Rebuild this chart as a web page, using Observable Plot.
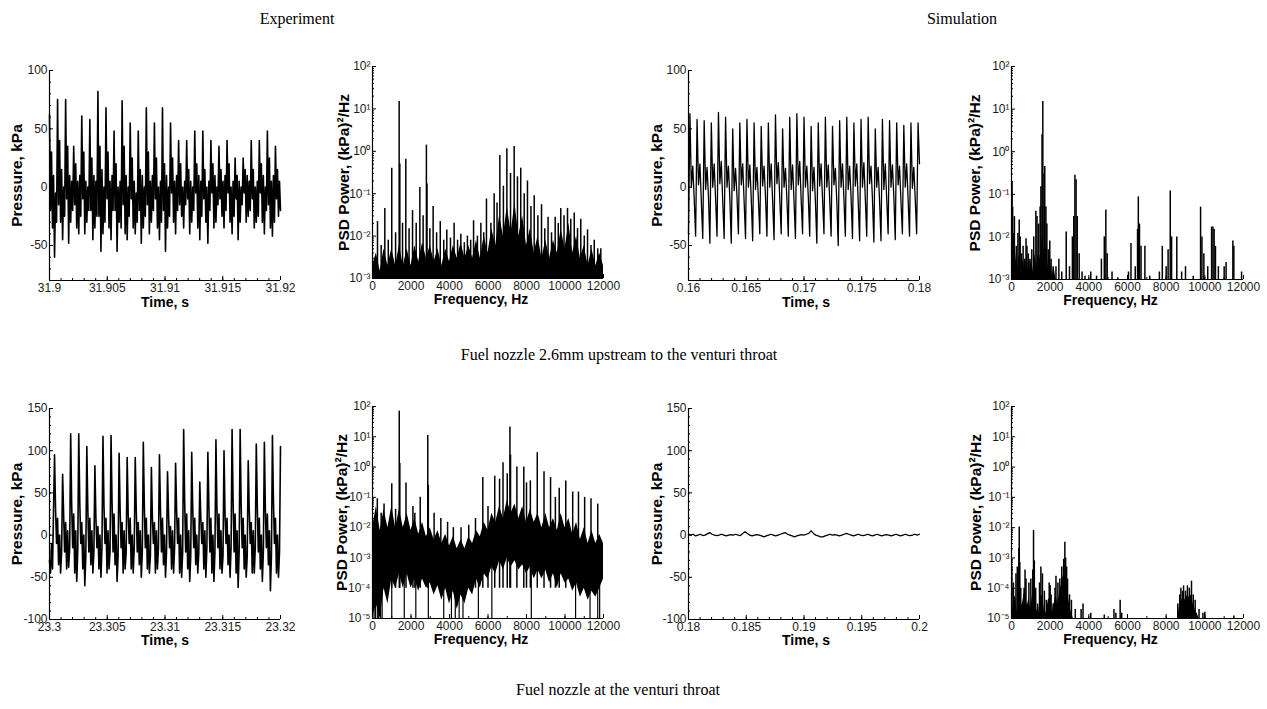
<!DOCTYPE html>
<html><head><meta charset="utf-8">
<script src="https://cdn.jsdelivr.net/npm/d3@7"></script>
<script src="https://cdn.jsdelivr.net/npm/@observablehq/plot@0.6"></script>
<style>
html,body{margin:0;padding:0;background:#fff;}
#wrap{position:relative;width:1267px;height:709px;overflow:hidden;background:#fff;}
.hd{position:absolute;font-family:'Liberation Serif','Times New Roman',serif;font-size:16px;line-height:16px;color:#000;white-space:nowrap;transform:translateX(-50%);}
.pn{position:absolute;}
</style></head><body>
<div id="wrap">
<div class="hd" style="left:297px;top:11px">Experiment</div>
<div class="hd" style="left:962px;top:11px">Simulation</div>
<div class="hd" style="left:619px;top:347px">Fuel nozzle 2.6mm upstream to the venturi throat</div>
<div class="hd" style="left:618px;top:682px">Fuel nozzle at the venturi throat</div>
</div>
<script>
// ---------------- DATA ----------------
// Row 1, experiment: pressure trace (kPa), evenly sampled over 31.9–31.92 s
const exp1Time = [31.9, 31.92];
const exp1Pressure = [
 62,-20,30,-35,10,-60,-5,-30,
 75,-15,40,-30,15,-45,0,-25,
 75,-10,35,-48,10,-30,5,-20,
 35,-15,20,-35,5,-40,10,-25,
 61,-10,30,-40,5,-30,0,-20,
 58,-20,25,-45,10,-35,5,-25,
 82,-25,35,-55,15,-40,0,-30,
 68,-10,30,-35,5,-45,10,-20,
 48,-20,20,-55,0,-30,5,-35,
 74,-15,35,-40,10,-45,0,-25,
 55,-10,25,-35,5,-40,-5,-30,
 48,-20,15,-48,10,-35,0,-25,
 68,-15,30,-40,5,-30,10,-20,
 55,-10,25,-35,0,-45,5,-30,
 68,-20,20,-55,10,-35,0,-25,
 55,-5,25,-30,5,-40,10,-20,
 40,-15,20,-25,0,-35,5,-15,
 40,-10,15,-40,5,-30,0,-20,
 48,-5,20,-35,10,-45,5,-25,
 48,-10,15,-30,0,-48,5,-20,
 40,-5,20,-35,10,-30,0,-15,
 35,-10,15,-25,5,-35,10,-20,
 40,-5,20,-30,0,-40,5,-25,
 25,-10,10,-45,5,-30,0,-15,
 25,-5,15,-30,10,-25,5,-20,
 40,-10,15,-35,0,-30,5,-25,
 40,-5,20,-30,10,-40,0,-20,
 48,-15,25,-35,5,-42,10,-30,
 35,-10,15,-25,5,-20
];
// Row 1, experiment: PSD spikes [Hz, (kPa)^2/Hz] and noise floor
const exp1Spikes = [
 [260,0.022],[640,0.045],[1000,0.4],[1385,15],[1420,0.5],[1730,0.65],[2080,0.04],[2460,0.14],[2800,1.4],[2830,0.17],
 [3150,0.05],[3520,0.022],[3860,0.014],[4240,0.02],[4590,0.011],[4930,0.01],[5250,0.023],[5630,0.02],[5920,0.075],
 [6320,0.1],[6615,0.8],[6980,1.15],[7360,1.3],[7700,0.4],[8050,0.2],[8400,0.09],[8780,0.055],[9120,0.028],[9490,0.028],
 [9780,0.045],[10130,0.045],[10480,0.035],[10820,0.025],[11170,0.014],[11520,0.008],[11860,0.005],
 [450,0.006],[820,0.008],[1200,0.012],[1560,0.02],[1900,0.015],[2270,0.02],[2630,0.03],[2980,0.015],[3330,0.012],
 [3700,0.008],[4050,0.009],[4420,0.008],[4770,0.007],[5100,0.008],[5450,0.01],[5780,0.012],[6150,0.02],[6470,0.06],
 [6800,0.15],[7170,0.3],[7530,0.25],[7880,0.1],[8230,0.05],[8590,0.03],[8950,0.015],[9300,0.012],[9650,0.02],
 [9950,0.03],[10300,0.025],[10650,0.015],[11000,0.01],[11350,0.006],[11700,0.005]
];
const exp1Floor = [
 [0,2e-3],[200,4e-3],[400,1.5e-3],[600,5e-3],[800,2e-3],[1000,5e-3],[1200,2e-3],[1400,6e-3],[1600,2e-3],[1800,5e-3],
 [2000,2e-3],[2200,6e-3],[2400,2.5e-3],[2600,7e-3],[2800,3e-3],[3000,6e-3],[3200,2.5e-3],[3400,5e-3],[3600,2e-3],[3800,5e-3],
 [4000,2.5e-3],[4200,6e-3],[4400,3e-3],[4600,7e-3],[4800,3e-3],[5000,6e-3],[5200,3e-3],[5400,8e-3],[5600,3e-3],[5800,1e-2],
 [6000,4e-3],[6200,1.5e-2],[6400,6e-3],[6600,3e-2],[6800,1e-2],[7000,5e-2],[7200,1.2e-2],[7400,6e-2],[7600,1e-2],[7800,3e-2],
 [8000,6e-3],[8200,1.5e-2],[8400,4e-3],[8600,1e-2],[8800,3e-3],[9000,8e-3],[9200,3e-3],[9400,8e-3],[9600,4e-3],[9800,1.5e-2],
 [10000,5e-3],[10200,2e-2],[10400,4e-3],[10600,1e-2],[10800,3e-3],[11000,6e-3],[11200,2e-3],[11400,5e-3],[11600,2e-3],
 [11800,4e-3],[12000,2e-3]
];
// Row 1, simulation: pressure trace over 0.16–0.18 s
const sim1Time = [0.16, 0.18];
const sim1Pressure = [
 -40,63,0,18,-10, -42,58,2,20,-12, -44,57,-2,17,-8, -48,55,0,20,-10, -42,64,3,22,-12,
 -44,60,0,18,-10, -48,50,-3,16,-8, -40,55,2,20,-12, -44,58,0,19,-10, -46,55,-2,17,-10,
 -40,52,1,18,-8, -42,55,0,20,-12, -45,62,3,21,-10, -40,50,0,16,-10, -42,60,-2,19,-12,
 -44,63,2,22,-10, -40,60,0,18,-8, -42,52,-3,17,-12, -48,55,1,20,-10, -40,60,0,19,-10,
 -42,52,2,16,-12, -50,57,0,20,-10, -42,60,-2,18,-8, -44,55,1,20,-12, -46,58,0,21,-10,
 -42,60,3,18,-10, -47,50,0,17,-12, -46,58,-2,20,-10, -40,57,0,19,-8, -45,55,2,18,-12,
 -40,53,0,20,-10, -42,55,-1,17,-10, -40,55,20
];
// Row 1, simulation: PSD spikes
const sim1Spikes = [
 [30,0.2],[60,0.05],[100,0.012],[150,0.03],[250,0.006],[330,0.012],[400,0.025],[450,0.01],[520,0.004],[600,0.006],
 [680,0.003],[750,0.009],[800,0.006],[870,0.004],[950,0.003],[1050,0.005],[1150,0.01],[1260,0.04],[1320,0.03],[1400,0.02],
 [1480,0.05],[1520,0.15],[1580,2.5],[1620,15],[1680,0.3],[1720,0.45],[1780,0.05],[1830,0.02],[1900,0.005],[1980,0.008],
 [2050,0.003],[2150,0.002],[2300,0.002],[2450,0.003],[2600,0.0015],[2830,0.013],[3000,0.002],[3150,0.01],[3220,0.03],
 [3280,0.28],[3340,0.22],[3400,0.03],[3500,0.004],[3650,0.0015],[3800,0.0012],[4100,0.0015],[4400,0.0012],[4650,0.003],
 [4800,0.01],[4880,0.043],[4950,0.004],[5200,0.0015],[5500,0.0011],[6050,0.0015],[6180,0.007],[6400,0.002],[6520,0.015],
 [6560,0.087],[6620,0.02],[6700,0.006],[6900,0.006],[7150,0.0012],[7650,0.0015],[7800,0.006],[8000,0.002],[8100,0.005],
 [8210,0.12],[8280,0.01],[8550,0.01],[8800,0.0015],[9000,0.002],[9400,0.0012],[9780,0.05],[9850,0.01],[9950,0.004],
 [10150,0.002],[10350,0.017],[10420,0.017],[10480,0.015],[10550,0.006],[10700,0.002],[11000,0.002],[11100,0.0025],
 [11450,0.008],[11500,0.006],[11900,0.0015]
];
const sim1Floor = [
 [0,4e-3],[100,1.5e-3],[200,5e-3],[300,1.5e-3],[400,4e-3],[500,1.2e-3],[600,3e-3],[700,1.5e-3],[800,4e-3],[900,1.2e-3],
 [1000,3e-3],[1100,1.5e-3],[1200,4e-3],[1300,2e-3],[1400,5e-3],[1500,3e-3],[1600,1e-2],[1700,4e-3],[1800,6e-3],[1900,2e-3],
 [2000,3e-3],[2100,1.2e-3],[2200,2e-3],[2300,1e-3]
];
// Row 2, experiment: pressure trace over 23.3–23.32 s
const exp2Time = [23.3, 23.32];
const exp2Pressure = [
 -30,-45,-10,-40,30,
 95,30,-10,20,-35,0,-45,-20,
 72,25,-20,15,-40,5,-38,-15,
 120,35,-15,25,-45,5,-55,-20,
 120,40,-10,15,-40,0,-60,-25,
 105,30,-20,20,-35,5,-45,-20,
 82,20,-15,10,-40,0,-50,-15,
 117,35,-10,20,-45,5,-40,-20,
 118,40,-20,25,-35,0,-55,-25,
 97,30,-15,15,-45,5,-40,-20,
 92,25,-10,20,-40,0,-45,-15,
 92,30,-20,15,-35,5,-50,-20,
 110,35,-15,20,-40,0,-45,-25,
 80,20,-10,15,-45,5,-40,-15,
 95,30,-20,20,-35,0,-50,-20,
 75,25,-15,10,-40,5,-45,-15,
 85,30,-10,20,-45,0,-50,-20,
 125,40,-20,25,-40,5,-55,-25,
 98,30,-15,20,-35,0,-45,-20,
 63,20,-10,15,-40,5,-50,-15,
 98,35,-20,20,-45,0,-55,-20,
 113,30,-15,25,-40,5,-45,-25,
 100,25,-10,20,-35,0,-50,-15,
 125,40,-20,25,-45,5,-62,-20,
 125,35,-15,20,-40,0,-50,-25,
 88,30,-10,15,-45,5,-45,-15,
 108,35,-20,20,-40,0,-55,-20,
 110,30,-15,25,-35,5,-66,-25,
 118,40,-10,20,-45,0,-50,-20,
 105
];
// Row 2, experiment: PSD spikes, noise band [Hz, low, high], and dips to the floor
const exp2Spikes = [
 [1390,70],[1420,1.3],[2870,11],[2900,0.25],[7140,21],[7170,2.5],[8560,3],[1740,0.3],[1000,0.28],[2480,0.1],
 [250,0.09],[600,0.06],[5730,0.45],[6350,0.5],[6780,1.4],[7500,1.0],[7860,1.0],[8200,0.35],[8910,0.7],[9250,0.45],
 [10040,0.35],[10400,0.15],[11020,0.1],[11350,0.09],[11700,0.06],[3200,0.03],[3550,0.02],[3900,0.015],[4200,0.01],
 [4600,0.01],[5000,0.012],[5350,0.02],[6000,0.05],[6600,0.4],[7000,0.6],[8000,0.3],[9500,0.1],[9700,0.2],[10700,0.15],
 [2100,0.05],[2200,0.03],[1200,0.04],[450,0.03]
];
const exp2Band = [
 [0,1e-5,1e-2],[200,3e-5,5e-2],[400,1e-5,8e-3],[600,1e-4,4e-2],[800,3e-5,1e-2],[1000,2e-4,5e-2],[1200,1e-4,1e-2],
 [1400,3e-4,4e-2],[1600,1e-4,1e-2],[1800,3e-4,3e-2],[2000,1e-4,8e-3],[2200,2e-4,2e-2],[2400,8e-5,6e-3],[2600,2e-4,1.5e-2],
 [2800,1e-4,5e-3],[3000,1.5e-4,1e-2],[3200,6e-5,4e-3],[3400,1.2e-4,8e-3],[3600,4e-5,3e-3],[3800,1e-4,6e-3],[4000,3e-5,2.5e-3],
 [4200,8e-5,5e-3],[4400,2e-5,2e-3],[4600,6e-5,4e-3],[4800,3e-5,2e-3],[5000,1e-4,5e-3],[5200,6e-5,3e-3],[5400,2e-4,8e-3],
 [5600,1e-4,5e-3],[5800,3e-4,1.5e-2],[6000,2e-4,8e-3],[6200,5e-4,3e-2],[6400,3e-4,1.5e-2],[6600,8e-4,5e-2],[6800,4e-4,2e-2],
 [7000,1e-3,8e-2],[7200,5e-4,3e-2],[7400,8e-4,6e-2],[7600,4e-4,2e-2],[7800,6e-4,5e-2],[8000,3e-4,1.5e-2],[8200,5e-4,4e-2],
 [8400,2e-4,1.5e-2],[8600,4e-4,3e-2],[8800,2e-4,1e-2],[9000,4e-4,3e-2],[9200,1.5e-4,1e-2],[9400,3e-4,2e-2],[9600,1e-4,8e-3],
 [9800,3e-4,3e-2],[10000,1.5e-4,1e-2],[10200,2e-4,2e-2],[10400,8e-5,6e-3],[10600,1.5e-4,1.5e-2],[10800,5e-5,4e-3],
 [11000,1e-4,1e-2],[11200,4e-5,3e-3],[11400,8e-5,8e-3],[11600,5e-5,3e-3],[11800,1e-4,6e-3],[12000,2e-4,3e-3]
];
const exp2Dips = [
 [80,3e-4],[150,3e-4],[250,4e-4],[320,3e-4],[420,3e-4],[500,3e-4],[1000,5e-4],[1650,5e-4],[2250,4e-4],[2900,3e-4],
 [3700,2e-4],[4100,2e-4],[4300,2e-4],[4500,2e-4],[4700,2e-4],[5500,3e-4],[6200,5e-4],[8250,8e-4],[10550,4e-4],
 [11300,3e-4],[11700,3e-4],[11800,3e-4]
];
// Row 2, simulation: pressure trace over 0.18–0.2 s
const sim2Time = [0.18, 0.2];
const sim2Pressure = [
 1,0,1,-1,0,1,-0.5,0,1.5,3,1,0,-0.5,0,1,0,-1,0,0.5,0,1,0,-0.5,2,4,2,0,-1,0,0.5,0,-1,-2,-1,0,1,0,-1,0,1,
 2,3,1,0,-1,-2,-1,0,0.5,0,1,2,5,2,0,-1,-2,-2,-1,0,1,0,0.5,0,-1,0,1,2,1,0,-1,0,1,0,-0.5,0,1,0,-1,0,
 1,0,-1,0,0.5,0,-1,0,1,0,-1,0,1,0,-0.5,0,1,0,1
];
// Row 2, simulation: PSD spikes and floor clusters
const sim2Spikes = [
 [20,5e-4],[60,2e-5],[100,1.5e-4],[150,5e-5],[230,3e-4],[300,5e-4],[380,2e-3],[400,0.0105],[430,7e-4],[480,1e-4],
 [550,3e-5],[650,1e-4],[700,4e-4],[750,2e-4],[800,3e-5],[900,1.5e-4],[1000,2e-4],[1100,4e-4],[1140,8e-3],[1180,8e-4],
 [1250,1e-4],[1350,3e-5],[1450,1.5e-4],[1520,5e-4],[1600,3e-4],[1700,8e-5],[1800,4e-5],[1950,1.5e-4],[2000,1.2e-4],
 [2050,6e-5],[2150,3e-5],[2250,1e-4],[2300,2.5e-4],[2400,1.5e-4],[2500,2e-4],[2600,5e-4],[2700,9e-4],[2760,3.3e-3],
 [2800,1e-3],[2850,5e-4],[2900,2e-4],[3000,6e-5],[3100,4e-5],[3300,2e-5],[3600,2e-5],[3700,3e-5],[4100,1.5e-5],
 [4800,1.3e-5],[5300,2e-5],[5400,1.5e-5],[5620,4e-5],[5700,1.5e-5],[8600,3e-5],[8700,6e-5],[8760,1e-4],[8850,8e-5],
 [8900,1.2e-4],[9000,8e-5],[9100,1.2e-4],[9200,1e-4],[9310,1.7e-4],[9400,6e-5],[9500,4e-5],[9700,2e-5],[9900,1.5e-5],
 [10000,1.6e-5],[11500,1.2e-5]
];
const sim2FloorA = [
 [0,8e-5],[100,2e-5],[200,6e-5],[300,1.5e-5],[400,1e-4],[500,2e-5],[600,4e-5],[700,1e-4],[800,2e-5],[900,5e-5],
 [1000,2e-5],[1100,8e-5],[1200,1e-4],[1300,2e-5],[1400,1.5e-5],[1500,5e-5],[1600,6e-5],[1700,2e-5],[1800,1.5e-5],
 [1900,4e-5],[2000,5e-5],[2100,1.5e-5],[2200,3e-5],[2300,6e-5],[2400,3e-5],[2500,8e-5],[2600,1.5e-4],[2700,3e-4],
 [2800,2e-4],[2900,8e-5],[3000,3e-5],[3100,1.5e-5],[3200,1e-5]
];
const sim2FloorB = [
 [8600,1e-5],[8700,3e-5],[8800,4e-5],[8900,5e-5],[9000,4e-5],[9100,6e-5],[9200,5e-5],[9300,6e-5],[9400,3e-5],
 [9500,2e-5],[9600,1.5e-5],[9700,1e-5]
];
// Tick labels
const timeTicks1Exp = [31.9, 31.905, 31.91, 31.915, 31.92];
const timeTicks1Sim = [0.16, 0.165, 0.17, 0.175, 0.18];
const timeTicks2Exp = [23.3, 23.305, 23.31, 23.315, 23.32];
const timeTicks2Sim = [0.18, 0.185, 0.19, 0.195, 0.2];
const freqTicks = [0, 2000, 4000, 6000, 8000, 10000, 12000];
const pTicks1 = [-50, 0, 50, 100];
const pTicks2 = [-100, -50, 0, 50, 100, 150];

// ---------------- HELPERS ----------------
const FONT = "'Liberation Sans', Arial, Helvetica, sans-serif";
const SUP = {"-":"\u207B","0":"\u2070","1":"\u00B9","2":"\u00B2","3":"\u00B3","4":"\u2074","5":"\u2075","6":"\u2076","7":"\u2077","8":"\u2078","9":"\u2079"};
const logFmt = d => "10" + String(Math.round(Math.log10(d))).split("").map(c => SUP[c]).join("");
const numFmt = d => String(+(+d).toFixed(4));
function series(range, vals) {
  const n = vals.length;
  return vals.map((v, i) => ({t: range[0] + (range[1] - range[0]) * i / (n - 1), v}));
}
function linMinor(a, b, step) {
  const out = []; const n = Math.round((b - a) / step);
  for (let i = 0; i <= n; i++) out.push(+(a + i * step).toFixed(6));
  return out;
}
function logMinor(e0, e1) {
  const out = [];
  for (let e = e0; e < e1; e++) for (let m = 2; m <= 9; m++) out.push(+(m + "e" + e));
  return out;
}
function logMajor(e0, e1) { const out = []; for (let e = e0; e <= e1; e++) out.push(+("1e" + e)); return out; }

const wrap = document.getElementById("wrap");
function panel(c) {
  const ML = 55, MR = 22, MT = 12, MB = 40;
  const W = c.R - c.L + ML + MR, H = c.B - c.T + MT + MB;
  const y0 = c.yDomain[0];
  const svg = Plot.plot({
    width: W, height: H, marginLeft: ML, marginRight: MR, marginTop: MT, marginBottom: MB,
    style: {fontFamily: FONT, fontSize: "12px", color: "#000", background: "transparent", overflow: "visible"},
    x: {domain: c.xDomain},
    y: {domain: c.yDomain, type: c.yType || "linear"},
    marks: [
      ...c.marks,
      Plot.ruleX([c.xDomain[0]], {stroke: "#000", strokeWidth: 1.2}),
      Plot.ruleY([y0], {stroke: "#000", strokeWidth: 1.2}),
      Plot.axisX({ticks: c.xMinor, tickSize: -2, fill: "none", stroke: "#000"}),
      Plot.axisX({ticks: c.xMajor, tickSize: -4, fill: "none", stroke: "#000"}),
      Plot.axisX({ticks: c.xMajor, tickSize: 0, tickPadding: 3, tickFormat: c.xFmt, label: null, fill: "#1a1a1a"}),
      Plot.axisY({ticks: c.yMinor, tickSize: -2, fill: "none", stroke: "#000"}),
      Plot.axisY({ticks: c.yMajor, tickSize: 0, tickPadding: 2, tickFormat: c.yFmt, label: null, fill: "#1a1a1a"}),
      Plot.axisY({ticks: c.yMajor, tickSize: -4, fill: "none", stroke: "#000"}),
      Plot.text([c.xTitle], {text: d => d, frameAnchor: "bottom", textAnchor: "middle", lineAnchor: "middle", dx: c.xdx || 0, dy: c.xdy, fontWeight: "bold", fontSize: 14, fill: "#000"}),
      Plot.text([c.yTitle], {text: d => d, frameAnchor: "left", textAnchor: "middle", lineAnchor: "middle", dx: c.ydx, rotate: -90, fontWeight: "bold", fontSize: 15.5, fill: "#000"})
    ]
  });
  const d = document.createElement("div");
  d.className = "pn";
  d.style.left = (c.L - ML) + "px";
  d.style.top = (c.T - MT) + "px";
  d.appendChild(svg);
  wrap.appendChild(d);
}
const lineMarks = (data, w) => [Plot.line(data, {x: "t", y: "v", stroke: "#000", strokeWidth: w})];
const PSD_T = "PSD Power, (kPa)\u00B2/Hz";

// ---------------- PANELS ----------------
panel({L: 49, T: 70, R: 280, B: 280, xDomain: exp1Time, yDomain: [-80, 100],
  xMajor: timeTicks1Exp, xMinor: linMinor(31.9, 31.92, 0.001), xFmt: numFmt,
  yMajor: pTicks1, yMinor: linMinor(-80, 100, 10), yFmt: numFmt,
  xTitle: "Time, s", xdy: 22, yTitle: "Pressure, kPa", ydx: -32,
  marks: lineMarks(series(exp1Time, exp1Pressure), 1.6)});

panel({L: 372, T: 66, R: 603, B: 278, xDomain: [0, 12000], yDomain: [1e-3, 1e2], yType: "log",
  xMajor: freqTicks, xMinor: linMinor(0, 12000, 1000), xFmt: numFmt,
  yMajor: logMajor(-3, 2), yMinor: logMinor(-3, 2), yFmt: logFmt,
  xTitle: "Frequency, Hz", xdx: -7, xdy: 21, yTitle: PSD_T, ydx: -28,
  marks: [
    Plot.areaY(exp1Floor, {x: d => d[0], y1: 1e-3, y2: d => d[1], fill: "#000"}),
    Plot.ruleX(exp1Spikes, {x: d => d[0], y1: 1e-3, y2: d => d[1], stroke: "#000", strokeWidth: 1.5})
  ]});

panel({L: 688, T: 70, R: 919, B: 280, xDomain: sim1Time, yDomain: [-80, 100],
  xMajor: timeTicks1Sim, xMinor: linMinor(0.16, 0.18, 0.001), xFmt: numFmt,
  yMajor: pTicks1, yMinor: linMinor(-80, 100, 10), yFmt: numFmt,
  xTitle: "Time, s", xdx: 2, xdy: 22, yTitle: "Pressure, kPa", ydx: -31,
  marks: lineMarks(series(sim1Time, sim1Pressure), 1.3)});

panel({L: 1011, T: 66, R: 1243, B: 279, xDomain: [0, 12000], yDomain: [1e-3, 1e2], yType: "log",
  xMajor: freqTicks, xMinor: linMinor(0, 12000, 1000), xFmt: numFmt,
  yMajor: logMajor(-3, 2), yMinor: logMinor(-3, 2), yFmt: logFmt,
  xTitle: "Frequency, Hz", xdx: -17, xdy: 21, yTitle: PSD_T, ydx: -36,
  marks: [
    Plot.areaY(sim1Floor, {x: d => d[0], y1: 1e-3, y2: d => d[1], fill: "#000"}),
    Plot.ruleX(sim1Spikes, {x: d => d[0], y1: 1e-3, y2: d => d[1], stroke: "#000", strokeWidth: 1.5})
  ]});

panel({L: 49, T: 408, R: 280, B: 619, xDomain: exp2Time, yDomain: [-100, 150],
  xMajor: timeTicks2Exp, xMinor: linMinor(23.3, 23.32, 0.001), xFmt: numFmt,
  yMajor: pTicks2, yMinor: linMinor(-100, 150, 10), yFmt: numFmt,
  xTitle: "Time, s", xdy: 21, yTitle: "Pressure, kPa", ydx: -32,
  marks: lineMarks(series(exp2Time, exp2Pressure), 1.6)});

panel({L: 372, T: 406, R: 603, B: 618, xDomain: [0, 12000], yDomain: [1e-5, 1e2], yType: "log",
  xMajor: freqTicks, xMinor: linMinor(0, 12000, 1000), xFmt: numFmt,
  yMajor: logMajor(-5, 2), yMinor: logMinor(-5, 2), yFmt: logFmt,
  xTitle: "Frequency, Hz", xdx: -7, xdy: 21, yTitle: PSD_T, ydx: -30,
  marks: [
    Plot.areaY(exp2Band, {x: d => d[0], y1: d => d[1], y2: d => d[2], fill: "#000"}),
    Plot.ruleX(exp2Dips, {x: d => d[0], y1: 1e-5, y2: d => d[1], stroke: "#000", strokeWidth: 1.2}),
    Plot.ruleX(exp2Spikes, {x: d => d[0], y1: 1e-4, y2: d => d[1], stroke: "#000", strokeWidth: 1.5})
  ]});

panel({L: 688, T: 408, R: 919, B: 619, xDomain: sim2Time, yDomain: [-100, 150],
  xMajor: timeTicks2Sim, xMinor: linMinor(0.18, 0.2, 0.001), xFmt: numFmt,
  yMajor: pTicks2, yMinor: linMinor(-100, 150, 10), yFmt: numFmt,
  xTitle: "Time, s", xdx: 2, xdy: 21, yTitle: "Pressure, kPa", ydx: -31,
  marks: lineMarks(series(sim2Time, sim2Pressure), 1.3)});

panel({L: 1011, T: 406, R: 1243, B: 618, xDomain: [0, 12000], yDomain: [1e-5, 1e2], yType: "log",
  xMajor: freqTicks, xMinor: linMinor(0, 12000, 1000), xFmt: numFmt,
  yMajor: logMajor(-5, 2), yMinor: logMinor(-5, 2), yFmt: logFmt,
  xTitle: "Frequency, Hz", xdx: -17, xdy: 21, yTitle: PSD_T, ydx: -35,
  marks: [
    Plot.areaY(sim2FloorA, {x: d => d[0], y1: 1e-5, y2: d => d[1], fill: "#000"}),
    Plot.areaY(sim2FloorB, {x: d => d[0], y1: 1e-5, y2: d => d[1], fill: "#000"}),
    Plot.ruleX(sim2Spikes, {x: d => d[0], y1: 1e-5, y2: d => d[1], stroke: "#000", strokeWidth: 1.5})
  ]});
</script>
</body></html>
